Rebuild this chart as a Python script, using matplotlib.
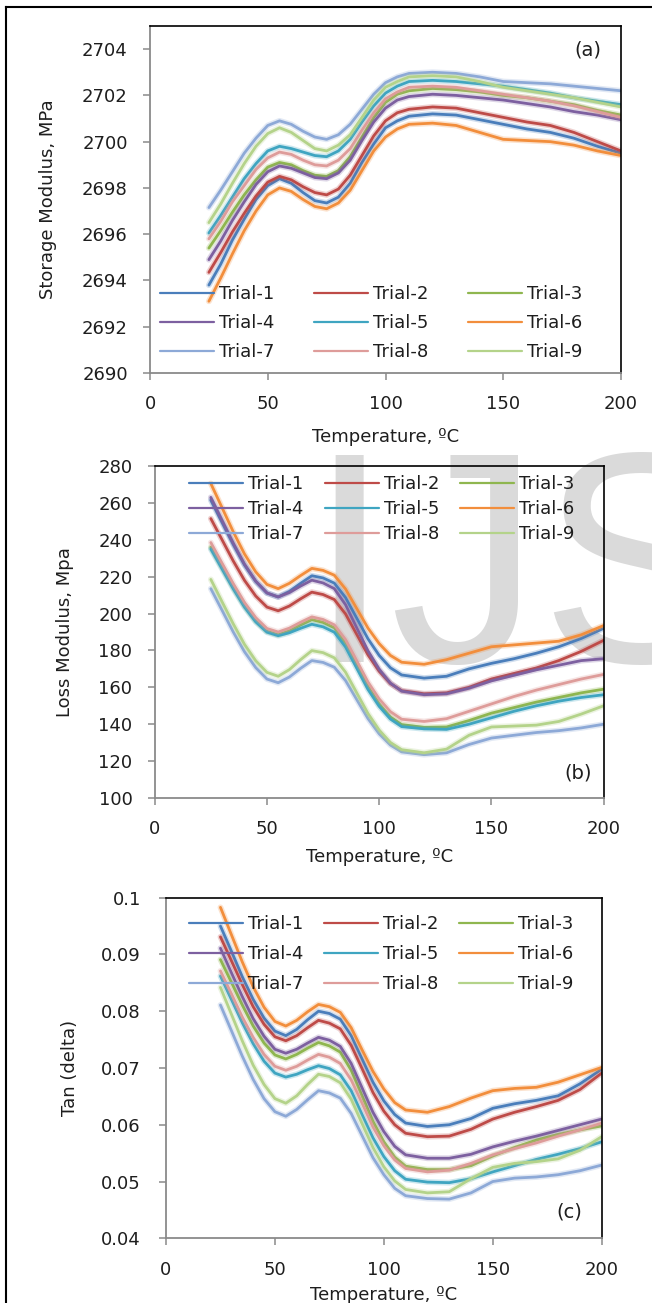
import matplotlib
matplotlib.use('Agg')
import matplotlib.pyplot as plt
import matplotlib.patheffects as pe
from matplotlib.lines import Line2D
from matplotlib.ticker import FormatStrFormatter

plt.rcParams['font.family'] = ['DejaVu Sans']

# temperature grid (ºC) the values were read at
temps = [25, 30, 35, 40, 45, 50, 55, 60, 65, 70, 75, 80, 85, 90, 95, 100,
         105, 110, 120, 130, 140, 150, 160, 170, 180, 190, 200]

trials = ['Trial-1', 'Trial-2', 'Trial-3', 'Trial-4', 'Trial-5',
          'Trial-6', 'Trial-7', 'Trial-8', 'Trial-9']

# (a) storage modulus, MPa
storage_1 = [2693.8, 2694.7, 2695.75, 2696.65, 2697.5, 2698.1, 2698.4, 2698.2, 2697.8, 2697.45, 2697.35, 2697.6, 2698.2, 2699.1,
             2699.9, 2700.6, 2700.9, 2701.1, 2701.2, 2701.15, 2700.95, 2700.75, 2700.55, 2700.4, 2700.15, 2699.8, 2699.5]
storage_2 = [2694.35, 2695.2, 2696.1, 2696.9, 2697.65, 2698.25, 2698.5, 2698.35, 2698.05, 2697.8, 2697.7, 2697.95, 2698.55, 2699.4,
             2700.25, 2700.9, 2701.25, 2701.4, 2701.5, 2701.45, 2701.25, 2701.05, 2700.85, 2700.7, 2700.4, 2700.0, 2699.6]
storage_3 = [2695.4, 2696.15, 2696.95, 2697.7, 2698.35, 2698.9, 2699.1, 2699.0, 2698.75, 2698.55, 2698.5, 2698.75, 2699.35, 2700.2,
             2701.05, 2701.7, 2702.05, 2702.2, 2702.3, 2702.25, 2702.15, 2702.0, 2701.9, 2701.75, 2701.6, 2701.35, 2701.15]
storage_4 = [2694.9, 2695.7, 2696.6, 2697.4, 2698.15, 2698.7, 2698.95, 2698.85, 2698.65, 2698.45, 2698.4, 2698.65, 2699.2, 2700.05,
             2700.85, 2701.45, 2701.8, 2701.95, 2702.05, 2702.0, 2701.9, 2701.8, 2701.65, 2701.5, 2701.3, 2701.15, 2700.95]
storage_5 = [2696.05, 2696.8, 2697.6, 2698.4, 2699.05, 2699.6, 2699.8, 2699.7, 2699.55, 2699.4, 2699.35, 2699.6, 2700.1, 2700.85,
             2701.55, 2702.1, 2702.4, 2702.6, 2702.65, 2702.6, 2702.5, 2702.4, 2702.25, 2702.1, 2701.9, 2701.75, 2701.6]
storage_6 = [2693.1, 2694.1, 2695.15, 2696.15, 2697.0, 2697.7, 2698.0, 2697.85, 2697.5, 2697.2, 2697.1, 2697.35, 2697.9, 2698.75,
             2699.6, 2700.2, 2700.55, 2700.75, 2700.8, 2700.7, 2700.4, 2700.1, 2700.05, 2700.0, 2699.85, 2699.6, 2699.4]
storage_7 = [2697.15, 2697.9, 2698.7, 2699.5, 2700.15, 2700.7, 2700.9, 2700.75, 2700.45, 2700.2, 2700.1, 2700.3, 2700.75, 2701.4,
             2702.05, 2702.55, 2702.8, 2702.95, 2703.0, 2702.95, 2702.8, 2702.6, 2702.55, 2702.5, 2702.4, 2702.3, 2702.2]
storage_8 = [2695.8, 2696.55, 2697.4, 2698.1, 2698.8, 2699.3, 2699.55, 2699.45, 2699.2, 2699.0, 2698.95, 2699.2, 2699.7, 2700.5,
             2701.25, 2701.85, 2702.15, 2702.35, 2702.4, 2702.35, 2702.2, 2702.05, 2701.9, 2701.75, 2701.55, 2701.3, 2701.05]
storage_9 = [2696.5, 2697.3, 2698.2, 2699.05, 2699.8, 2700.35, 2700.6, 2700.4, 2700.05, 2699.7, 2699.6, 2699.85, 2700.3, 2701.05,
             2701.8, 2702.35, 2702.6, 2702.8, 2702.85, 2702.8, 2702.6, 2702.35, 2702.2, 2702.05, 2701.9, 2701.7, 2701.5]

# (b) loss modulus, MPa
loss_1 = [261.5, 249.4, 237.4, 226.3, 217.4, 211.1, 209, 212, 216.4, 220.5, 219.3, 216.5, 208.7, 197.5,
          186.3, 177.3, 170.6, 166.7, 165, 166, 170, 173, 175.5, 178.5, 182, 186.5, 192]
loss_2 = [251.5, 240, 228.5, 218, 209.5, 203.5, 201.5, 204.1, 208, 211.6, 210.3, 207.6, 199.8, 188.7,
          177.6, 168.7, 162, 158.2, 156.5, 157, 160, 164.5, 167.5, 170.5, 174.5, 179.5, 185.5]
loss_3 = [236, 225.1, 214.2, 204.2, 196.1, 190.4, 188.5, 190.6, 193.8, 196.7, 195.2, 192.3, 184, 172.2,
          160.4, 151, 143.9, 139.8, 138.3, 138.5, 142, 146, 149, 152, 154.5, 157, 159]
loss_4 = [263, 250.6, 238.2, 226.8, 217.6, 211.2, 209, 211.4, 214.9, 218.1, 216.6, 213.5, 204.8, 192.3,
          179.8, 169.8, 162.3, 157.9, 156, 156.5, 159.5, 163.5, 166.5, 169.5, 172, 174.5, 175.5]
loss_5 = [235, 224.2, 213.4, 203.5, 195.5, 189.9, 188, 189.6, 192, 194.2, 192.8, 189.9, 181.9, 170.4,
          158.9, 149.7, 142.8, 138.7, 137.5, 137.2, 140, 143.5, 147, 150, 152.5, 154.5, 156]
loss_6 = [270.5, 257.4, 244.3, 232.3, 222.6, 215.8, 213.5, 216.4, 220.6, 224.5, 223.4, 220.8, 213.3, 202.7,
          192.1, 183.7, 177.3, 173.6, 172.5, 175, 178.5, 182, 183, 184, 185, 188.5, 193.5]
loss_7 = [213.5, 201.8, 190, 179.3, 170.7, 164.5, 162.5, 165.6, 170.3, 174.5, 173.5, 170.9, 163.7, 153.4,
          143.1, 134.8, 128.7, 125, 123.5, 124.5, 129, 132.5, 134, 135.5, 136.5, 138, 140]
loss_8 = [238.5, 227.3, 216.2, 206, 197.8, 191.9, 190, 192.1, 195.3, 198.2, 196.8, 193.9, 185.9, 174.4,
          162.9, 153.7, 146.8, 142.7, 141.5, 143, 147, 151, 155, 158.5, 161.5, 164.5, 167]
loss_9 = [218.5, 206.4, 194.4, 183.3, 174.4, 168.1, 166, 169.6, 175, 179.9, 178.8, 176, 168.2, 157,
          145.8, 136.8, 130.1, 126.2, 124.5, 126.5, 134, 138.5, 139, 139.5, 141.5, 145.5, 150]

# (c) tan delta
tan_1 = [0.0950, 0.0906, 0.0861, 0.0821, 0.0788, 0.0765, 0.0757, 0.0768, 0.0785, 0.0800, 0.0796, 0.0786, 0.0757, 0.0716,
         0.0675, 0.0642, 0.0618, 0.0603, 0.0597, 0.0600, 0.0611, 0.0629, 0.0637, 0.0643, 0.0651, 0.0672, 0.0698]
tan_2 = [0.0931, 0.0889, 0.0847, 0.0808, 0.0777, 0.0755, 0.0748, 0.0757, 0.0771, 0.0784, 0.0779, 0.0769, 0.0740, 0.0699,
         0.0657, 0.0624, 0.0600, 0.0585, 0.0579, 0.0580, 0.0592, 0.0610, 0.0622, 0.0632, 0.0643, 0.0662, 0.0691]
tan_3 = [0.0891, 0.0851, 0.0811, 0.0774, 0.0744, 0.0723, 0.0716, 0.0724, 0.0735, 0.0745, 0.0739, 0.0728, 0.0696, 0.0651,
         0.0606, 0.0570, 0.0543, 0.0527, 0.0521, 0.0521, 0.0528, 0.0545, 0.0560, 0.0573, 0.0583, 0.0591, 0.0598]
tan_4 = [0.0911, 0.0868, 0.0826, 0.0787, 0.0756, 0.0733, 0.0726, 0.0733, 0.0744, 0.0754, 0.0749, 0.0738, 0.0708, 0.0665,
         0.0622, 0.0588, 0.0562, 0.0547, 0.0541, 0.0541, 0.0548, 0.0561, 0.0571, 0.0580, 0.0590, 0.0600, 0.0610]
tan_5 = [0.0862, 0.0821, 0.0780, 0.0743, 0.0712, 0.0691, 0.0684, 0.0689, 0.0697, 0.0704, 0.0699, 0.0688, 0.0660, 0.0618,
         0.0577, 0.0544, 0.0519, 0.0504, 0.0499, 0.0498, 0.0505, 0.0517, 0.0528, 0.0539, 0.0548, 0.0558, 0.0570]
tan_6 = [0.0983, 0.0935, 0.0887, 0.0843, 0.0807, 0.0782, 0.0774, 0.0784, 0.0799, 0.0812, 0.0808, 0.0798, 0.0771, 0.0732,
         0.0694, 0.0663, 0.0639, 0.0626, 0.0622, 0.0632, 0.0647, 0.0660, 0.0664, 0.0666, 0.0675, 0.0688, 0.0701]
tan_7 = [0.0811, 0.0766, 0.0721, 0.0680, 0.0646, 0.0623, 0.0615, 0.0627, 0.0644, 0.0660, 0.0656, 0.0647, 0.0620, 0.0581,
         0.0542, 0.0512, 0.0488, 0.0475, 0.0470, 0.0469, 0.0480, 0.0500, 0.0506, 0.0508, 0.0512, 0.0519, 0.0529]
tan_8 = [0.0871, 0.0831, 0.0790, 0.0754, 0.0724, 0.0703, 0.0696, 0.0703, 0.0714, 0.0724, 0.0719, 0.0708, 0.0679, 0.0638,
         0.0596, 0.0563, 0.0538, 0.0523, 0.0517, 0.0520, 0.0532, 0.0547, 0.0558, 0.0568, 0.0580, 0.0591, 0.0603]
tan_9 = [0.0842, 0.0795, 0.0748, 0.0705, 0.0671, 0.0646, 0.0638, 0.0651, 0.0671, 0.0689, 0.0685, 0.0674, 0.0645, 0.0602,
         0.0560, 0.0526, 0.0501, 0.0486, 0.0480, 0.0482, 0.0505, 0.0525, 0.0532, 0.0535, 0.0540, 0.0555, 0.0579]

storage = [storage_1, storage_2, storage_3, storage_4, storage_5, storage_6, storage_7, storage_8, storage_9]
loss = [loss_1, loss_2, loss_3, loss_4, loss_5, loss_6, loss_7, loss_8, loss_9]
tan = [tan_1, tan_2, tan_3, tan_4, tan_5, tan_6, tan_7, tan_8, tan_9]

colors = ['#4A7EBB', '#BE4B48', '#8FB64F', '#7D60A0', '#3FA5C1',
          '#F28E3C', '#8DA9D7', '#DE9C9A', '#B4D38A']

text_col = '#1E1E1E'
W, H = 652, 1303
fig = plt.figure(figsize=(W / 100, H / 100), dpi=100)

# watermark behind the panels
fig.text(307 / W, 1 - 662 / H, 'IJS', family='Liberation Sans', fontsize=216,
         color='#DADADA', va='baseline', ha='left', zorder=-1)

# frame of the page (left and top only are visible)
fig.add_artist(Line2D([6 / W, 6 / W], [0, 1 - 7 / H], color='black', lw=1.5))
fig.add_artist(Line2D([6 / W, 1], [1 - 7 / H, 1 - 7 / H], color='black', lw=1.5))

panels = [
    dict(data=storage, box=(150, 26, 621, 373), ylim=(2690, 2705),
         yticks=list(range(2690, 2705, 2)), ylabel='Storage Modulus, MPa',
         ylab_x=48, xlab_y=437, tag='(a)', tag_xy=(0.93, 0.931), ypad=11,
         leg_xy=(160, 285), colsp=2.18, labsp=0.62),
    dict(data=loss, box=(154.7, 466, 603.7, 798), ylim=(100, 280),
         yticks=list(range(100, 281, 20)), ylabel='Loss Modulus, Mpa',
         ylab_x=65, xlab_y=857, tag='(b)', tag_xy=(0.943, 0.075), ypad=11,
         leg_xy=(189, 475), colsp=1.18, labsp=0.40),
    dict(data=tan, box=(166, 897.7, 601.7, 1238.3), ylim=(0.04, 0.1),
         yticks=[0.04, 0.05, 0.06, 0.07, 0.08, 0.09, 0.1], ylabel='Tan (delta)',
         ylab_x=70, xlab_y=1295, tag='(c)', tag_xy=(0.926, 0.077), ypad=13,
         leg_xy=(189, 915), colsp=1.13, labsp=0.66),
]

# legend is filled row by row: Trial-1, Trial-2, Trial-3 on the first row
row_order = [0, 3, 6, 1, 4, 7, 2, 5, 8]

for p in panels:
    l, t, r, b = p['box']
    ax = fig.add_axes([l / W, 1 - b / H, (r - l) / W, (b - t) / H])
    ax.patch.set_alpha(0)

    lines = []
    for name, vals, c in zip(trials, p['data'], colors):
        ln, = ax.plot(temps, vals, color=c, lw=2.0, label=name, solid_capstyle='round',
                      path_effects=[pe.Stroke(linewidth=4.2, foreground=c, alpha=0.25), pe.Normal()])
        lines.append(ln)

    ax.set_xlim(0, 200)
    ax.set_ylim(*p['ylim'])
    ax.set_xticks([0, 50, 100, 150, 200])
    ax.set_yticks(p['yticks'])
    ax.yaxis.set_major_formatter(FormatStrFormatter('%g'))

    for side in ['top', 'right']:
        ax.spines[side].set_color('black')
        ax.spines[side].set_linewidth(1.2)
    for side in ['left', 'bottom']:
        ax.spines[side].set_color('#8A8A8A')
        ax.spines[side].set_linewidth(1.3)
    ax.tick_params(axis='both', direction='out', length=5, width=1.1, color='#8A8A8A',
                   labelsize=13, labelcolor=text_col)
    ax.tick_params(axis='x', pad=11)
    ax.tick_params(axis='y', pad=p['ypad'])

    ax.set_ylabel(p['ylabel'], fontsize=13, color=text_col)
    ax.yaxis.set_label_coords((p['ylab_x'] - l) / (r - l), 0.5)
    ax.yaxis.label.set_verticalalignment('center')
    ax.set_xlabel('Temperature, ºC', fontsize=13, color=text_col)
    ax.xaxis.set_label_coords(0.5, -(p['xlab_y'] - b) / (b - t))
    ax.xaxis.label.set_verticalalignment('center')

    ax.text(p['tag_xy'][0], p['tag_xy'][1], p['tag'], transform=ax.transAxes,
            fontsize=14, color=text_col, ha='center', va='center')

    lx, ly = p['leg_xy']
    leg = ax.legend([lines[i] for i in row_order], [trials[i] for i in row_order],
                    ncol=3, loc='upper left',
                    bbox_to_anchor=((lx - l) / (r - l), (b - ly) / (b - t)),
                    frameon=False, fontsize=13, borderpad=0, borderaxespad=0,
                    handlelength=2.99, handletextpad=0.28,
                    columnspacing=p['colsp'], labelspacing=p['labsp'])
    for line in leg.get_lines():
        line.set_path_effects([])
        line.set_linewidth(1.6)
    for txt in leg.get_texts():
        txt.set_color(text_col)

fig.savefig('out.png', dpi=100)
